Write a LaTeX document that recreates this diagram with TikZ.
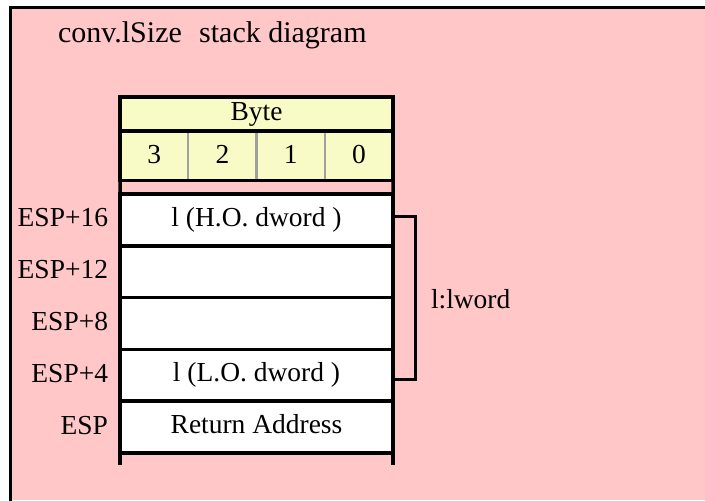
\documentclass[tikz,border=0pt]{standalone}
\usepackage{fontspec}
\setmainfont{Liberation Serif}
\definecolor{bgpink}{RGB}{255,199,199}
\definecolor{hdryellow}{RGB}{249,251,199}
\definecolor{sepgray}{RGB}{160,160,160}
\begin{document}
\begin{tikzpicture}[x=0.75pt,y=-0.75pt,
  lbl/.style={font=\fontsize{20.6pt}{24pt}\selectfont, inner sep=0pt, outer sep=0pt},
  ttl/.style={font=\fontsize{22.5pt}{26pt}\selectfont, inner sep=0pt, outer sep=0pt},
  blk/.style={line width=2.625pt, black},
  stackrow/.style={lbl, draw=black, line width=2.625pt, fill=white, minimum width=204.75pt, minimum height=38.85pt, text height=9.75pt, text depth=0pt},
  hdr/.style={lbl, draw=black, line width=2.625pt, fill=hdryellow, minimum width=204.75pt, minimum height=25.5pt, text height=10pt, text depth=0pt},
  cell/.style={lbl, fill=hdryellow, minimum width=51.19pt, minimum height=37.125pt, text height=11.25pt, text depth=0pt},
  sep/.style={line width=1.8pt, sepgray},
  bracket/.style={line width=2.25pt, black},
  addr/.style={lbl, anchor=base east}]
\useasboundingbox (0,0) rectangle (705,500);
\clip (0,0) rectangle (705,500);
\fill[white] (0,0) rectangle (705,500);
\fill[bgpink] (10.5,7.5) rectangle (705,500);
\draw[line width=2.25pt] (10.5,502) -- (10.5,7.5) -- (707,7.5);
% title
\node[ttl, anchor=base west] (title) at (58,42.5) {conv.lSize\hspace{13pt}stack diagram};
% header
\node[cell] (d3) at (154.125,155.75) {3};
\node[cell] (d2) at (222.375,155.75) {2};
\node[cell] (d1) at (290.625,155.75) {1};
\node[cell] (d0) at (358.875,155.75) {0};
\draw[sep] (d3.north east) -- (d3.south east);
\draw[sep] (d2.north east) -- (d2.south east);
\draw[sep] (d1.north east) -- (d1.south east);
\draw[blk] (d3.north west) rectangle (d0.south east);
\node[hdr] (byte) at (256.5,114) {Byte};
% stack rows
\node[stackrow] (r16) at (256.5,219.9) {l (H.O. dword )};
\node[stackrow] (r12) at (256.5,271.7) {};
\node[stackrow] (r8) at (256.5,323.5) {};
\node[stackrow] (r4) at (256.5,375.3) {l (L.O. dword )};
\node[stackrow] (r0) at (256.5,427.1) {Return Address};
% vertical side lines
\draw[blk] (d3.south west) -- (r16.north west);
\draw[blk] (d0.south east) -- (r16.north east);
\draw[blk] (r0.south west) -- ++(0,12);
\draw[blk] (r0.south east) -- ++(0,12);
% addresses
\node[addr] (a16) at (108,226.9) {ESP+16};
\node[addr] (a12) at (108,278.7) {ESP+12};
\node[addr] (a8) at (108,330.5) {ESP+8};
\node[addr] (a4) at (108,382.3) {ESP+4};
\node[addr] (a0) at (108,434.1) {ESP};
% bracket
\coordinate (bt) at (393,216);
\coordinate (bb) at (393,379);
\coordinate (bx) at (415.3,0);
\draw[bracket] (bt) -- (bt -| bx) -- (bb -| bx) -- (bb);
\node[lbl, anchor=base west] (lw) at (431,308.3) {l:lword};
\end{tikzpicture}
\end{document}
